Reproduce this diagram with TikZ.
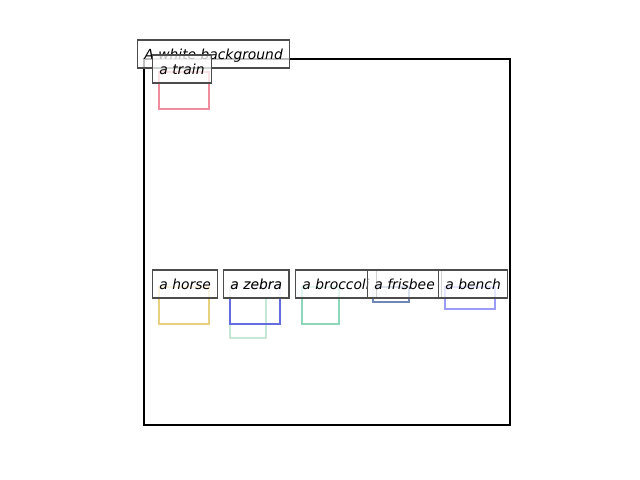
\documentclass[tikz,border=0pt]{standalone}
\usepackage{fontspec}
\setsansfont{DejaVu Sans}
\usepackage{xcolor}
\usepackage{tikz}
\usetikzlibrary{positioning}
\definecolor{trainpink}{RGB}{240,140,155}
\definecolor{horseyellow}{RGB}{232,208,128}
\definecolor{zebrablue}{RGB}{100,108,222}
\definecolor{zebragreen}{RGB}{200,232,215}
\definecolor{broccoligreen}{RGB}{140,216,184}
\definecolor{frisbeeblue}{RGB}{110,135,180}
\definecolor{benchviolet}{RGB}{155,155,248}

\begin{document}
\begin{tikzpicture}[x=0.01in, y=-0.01in]
	\tikzstyle{objbox}=[line width=2.1pt]
	\tikzstyle{tag}=[draw=black!70, line width=0.75pt, fill=white, fill opacity=0.75, text opacity=1, anchor=west, minimum height=0.28in, inner xsep=5pt, inner ysep=0pt, text height=8.8pt, text depth=1.2pt, font=\fontsize{10}{12}\selectfont\sffamily\itshape]
	
	\useasboundingbox (0,0) rectangle (640,480);
	
	%% object boxes
	\foreach \x/\y/\xx/\yy/\c in {159/72/209/109/trainpink, 159/287/209/324/horseyellow, 230/287/266/338/zebragreen, 230/287/280/324/zebrablue, 302/287/339/324/broccoligreen, 373/287/409/302/frisbeeblue, 445/287/495/309/benchviolet}
		\draw [\c, objbox] (\x,\y) rectangle (\xx,\yy);
	
	%% axes frame
	\draw [line width=1.5pt] (144,59) rectangle (510,425);
	
	%% labels
	\node [tag] (Tbg) at (137,54) {A white background};
	\node [tag] (Ttrain) at (152,69) {a train};
	\node [tag] (Thorse) at (152,284) {a horse};
	\node [tag] (Tzebra1) at (223,284) {a zebra};
	\node [tag] (Tzebra2) at (223,284) {a zebra};
	\node [tag] (Tbroccoli) at (295,284) {a broccoli};
	\node [tag] (Tfrisbee) at (367,284) {a frisbee};
	\node [tag] (Tbench) at (438,284) {a bench};
\end{tikzpicture}
\end{document}
